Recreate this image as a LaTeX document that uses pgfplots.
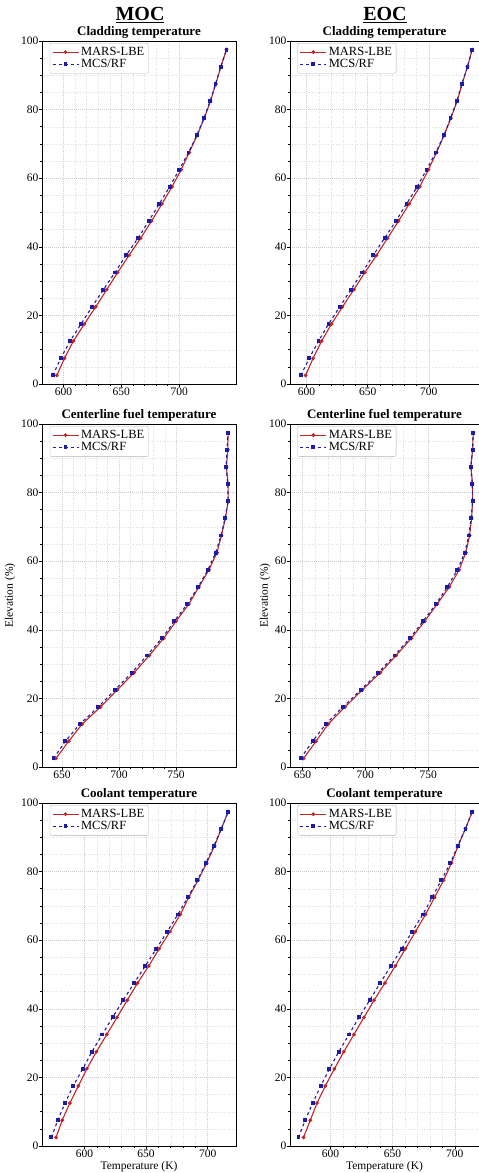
\documentclass[border=0pt]{standalone}
\usepackage{fontspec}
\setmainfont{Liberation Serif}
\usepackage{pgfplots}
\usepackage{pgfplotstable}
\pgfplotsset{compat=1.18}

\definecolor{marsred}{RGB}{192,38,38}
\definecolor{mcsblue}{RGB}{28,28,168}

% elevation (%), MARS-LBE, MCS/RF temperatures (K)
\pgfplotstableread{
y mars mcs
2.5 594.3 590.8
7.5 600.9 597.7
12.5 608.6 605.7
17.5 618.1 615.2
22.5 627.9 624.7
27.5 637.4 634.5
32.5 646.8 644.5
37.5 656.6 654.0
42.5 666.7 664.4
47.5 676.1 673.6
52.5 685.1 682.8
57.5 693.7 691.7
62.5 701.7 700.0
67.5 708.6 708.0
72.5 715.5 715.2
77.5 721.6 721.3
82.5 727.0 726.7
87.5 731.6 731.3
92.5 735.9 735.9
97.5 740.8 740.8
}\cladmoc

\pgfplotstableread{
y mars mcs
2.5 599.2 595.4
7.5 605.4 602.2
12.5 612.3 609.8
17.5 620.4 618.0
22.5 629.4 627.2
27.5 638.7 636.2
32.5 647.7 645.5
37.5 657.2 654.5
42.5 666.2 663.8
47.5 675.2 673.0
52.5 683.9 681.7
57.5 692.6 690.5
62.5 699.7 698.1
67.5 706.3 705.7
72.5 712.5 712.3
77.5 718.0 717.7
82.5 723.2 722.9
87.5 727.2 727.0
92.5 731.6 731.6
97.5 735.4 735.4
}\cladeoc

\pgfplotstableread{
y mars mcs
2.5 644.7 642.6
7.5 655.9 652.9
12.5 667.6 665.6
17.5 683.8 681.8
22.5 698.5 696.5
27.5 713.2 711.2
32.5 726.5 724.4
37.5 739.1 737.6
42.5 750.0 748.5
47.5 761.2 759.7
52.5 770.0 769.4
57.5 778.8 777.9
62.5 785.9 784.7
67.5 789.7 789.4
72.5 793.2 792.9
77.5 795.6 795.6
82.5 795.6 795.3
87.5 794.1 793.8
92.5 795.3 794.7
97.5 795.6 795.3
}\fuelmoc

\pgfplotstableread{
y mars mcs
2.5 650.8 648.4
7.5 660.7 658.0
12.5 670.4 668.5
17.5 683.8 682.2
22.5 697.7 696.4
27.5 711.9 710.3
32.5 724.5 723.2
37.5 736.6 735.3
42.5 747.3 746.0
47.5 757.2 756.2
52.5 766.9 765.3
57.5 774.7 773.3
62.5 780.0 779.2
67.5 783.0 782.4
72.5 784.6 784.3
77.5 785.4 785.4
82.5 785.4 785.1
87.5 784.0 784.0
92.5 785.4 785.4
97.5 785.9 785.9
}\fueleoc

\pgfplotstableread{
y mars mcs
2.5 576.9 573.1
7.5 581.9 578.3
12.5 588.1 584.2
17.5 595.0 590.8
22.5 601.9 598.6
27.5 609.7 606.1
32.5 618.1 614.4
37.5 626.4 622.8
42.5 634.7 631.4
47.5 643.1 640.3
52.5 652.2 649.4
57.5 660.6 658.3
62.5 669.4 667.2
67.5 677.8 675.8
72.5 684.7 683.9
77.5 692.2 691.7
82.5 699.2 698.6
87.5 705.6 705.0
92.5 711.1 711.1
97.5 716.7 716.7
}\coolmoc

\pgfplotstableread{
y mars mcs
2.5 578.4 574.3
7.5 583.8 579.7
12.5 589.2 585.7
17.5 595.9 592.2
22.5 603.2 599.2
27.5 610.8 606.8
32.5 618.9 614.9
37.5 627.0 623.0
42.5 635.1 631.6
47.5 643.8 640.0
52.5 652.2 648.6
57.5 660.3 657.3
62.5 668.4 665.7
67.5 676.5 674.3
72.5 683.8 681.9
77.5 691.1 689.2
82.5 697.3 696.5
87.5 702.7 702.4
92.5 708.6 708.6
97.5 714.1 714.1
}\cooleoc

\pgfplotsset{
  panel/.style={
    scale only axis, height=343pt, anchor=south west,
    ymin=0, ymax=100, ytick={0,20,...,100},
    minor x tick num=4, minor y tick num=3,
    grid=both,
    major grid style={gray!40, dash pattern=on 1pt off 1pt, line width=0.4pt},
    minor grid style={gray!25, dotted, line width=0.3pt},
    tick align=outside, tick pos=left,
    major tick length=3pt, minor tick length=1.8pt,
    tick style={black, line width=0.5pt},
    axis line style={line width=0.7pt},
    /pgf/number format/assume math mode=true,
    ticklabel style={font=\fontsize{11.5}{12}\selectfont},
    xticklabel style={yshift=3pt},
    yticklabel style={xshift=3pt},
    every axis title shift=0pt,
    title style={font=\bfseries\fontsize{13}{14}\selectfont, at={(0.5,1)}, anchor=base, yshift=5pt},
    label style={font=\fontsize{11.5}{12}\selectfont},
    legend style={at={(0.04,0.994)}, anchor=north west, font=\fontsize{12.5}{14}\selectfont,
      draw=gray!60, rounded corners=1pt, inner sep=2pt, row sep=-1.5pt},
    legend cell align=left,
    legend image code/.code={\draw[mark repeat=2,mark phase=2,##1] plot coordinates {(0pt,0pt)(13pt,0pt)(26pt,0pt)};},
  },
  leftcol/.style={width=194pt},
  rightcol/.style={width=189pt},
  mars/.style={marsred, line width=1.1pt, mark=*, mark size=1.3pt, mark options={solid}},
  mcs/.style={mcsblue, line width=1.1pt, dashed, mark=square*, mark size=1.4pt, mark options={solid}},
}

\begin{document}
\begin{tikzpicture}
\useasboundingbox (0,0) rectangle (479pt,1173pt);

\node[anchor=base, font=\bfseries\fontsize{20}{22}\selectfont] at (140pt,1152pt) {\underline{MOC}};
\node[anchor=base, font=\bfseries\fontsize{20}{22}\selectfont] at (385pt,1152pt) {\underline{EOC}};

% row 1: cladding
\begin{axis}[panel, leftcol, at={(42pt,789pt)}, xmin=581.5, xmax=749, xtick={600,650,700},
  title={Cladding temperature}]
\addplot[mars] table[x=mars, y=y] {\cladmoc};
\addplot[mcs] table[x=mcs, y=y] {\cladmoc};
\legend{MARS-LBE, MCS/RF}
\end{axis}
\begin{axis}[panel, rightcol, at={(290pt,789pt)}, xmin=586.5, xmax=741, xtick={600,650,700},
  title={Cladding temperature}]
\addplot[mars] table[x=mars, y=y] {\cladeoc};
\addplot[mcs] table[x=mcs, y=y] {\cladeoc};
\legend{MARS-LBE, MCS/RF}
\end{axis}

% row 2: centerline fuel
\begin{axis}[panel, leftcol, at={(42pt,406pt)}, xmin=632.5, xmax=802.5, xtick={650,700,750},
  title={Centerline fuel temperature}, ylabel={Elevation (\%)},
  ylabel style={at={(axis description cs:-0.165,0.5)}, anchor=center}]
\addplot[mars] table[x=mars, y=y] {\fuelmoc};
\addplot[mcs] table[x=mcs, y=y] {\fuelmoc};
\legend{MARS-LBE, MCS/RF}
\end{axis}
\begin{axis}[panel, rightcol, at={(290pt,406pt)}, xmin=640, xmax=790.5, xtick={650,700,750},
  title={Centerline fuel temperature}, ylabel={Elevation (\%)},
  ylabel style={at={(axis description cs:-0.132,0.5)}, anchor=center}]
\addplot[mars] table[x=mars, y=y] {\fueleoc};
\addplot[mcs] table[x=mcs, y=y] {\fueleoc};
\legend{MARS-LBE, MCS/RF}
\end{axis}

% row 3: coolant
\begin{axis}[panel, leftcol, at={(42pt,27pt)}, xmin=565.5, xmax=723, xtick={600,650,700},
  title={Coolant temperature}, xlabel={Temperature (K)},
  xlabel style={at={(axis description cs:0.5,0)}, anchor=center, yshift=-21pt}]
\addplot[mars] table[x=mars, y=y] {\coolmoc};
\addplot[mcs] table[x=mcs, y=y] {\coolmoc};
\legend{MARS-LBE, MCS/RF}
\end{axis}
\begin{axis}[panel, rightcol, at={(290pt,27pt)}, xmin=567.5, xmax=719.5, xtick={600,650,700},
  title={Coolant temperature}, xlabel={Temperature (K)},
  xlabel style={at={(axis description cs:0.5,0)}, anchor=center, yshift=-21pt}]
\addplot[mars] table[x=mars, y=y] {\cooleoc};
\addplot[mcs] table[x=mcs, y=y] {\cooleoc};
\legend{MARS-LBE, MCS/RF}
\end{axis}
\end{tikzpicture}
\end{document}
